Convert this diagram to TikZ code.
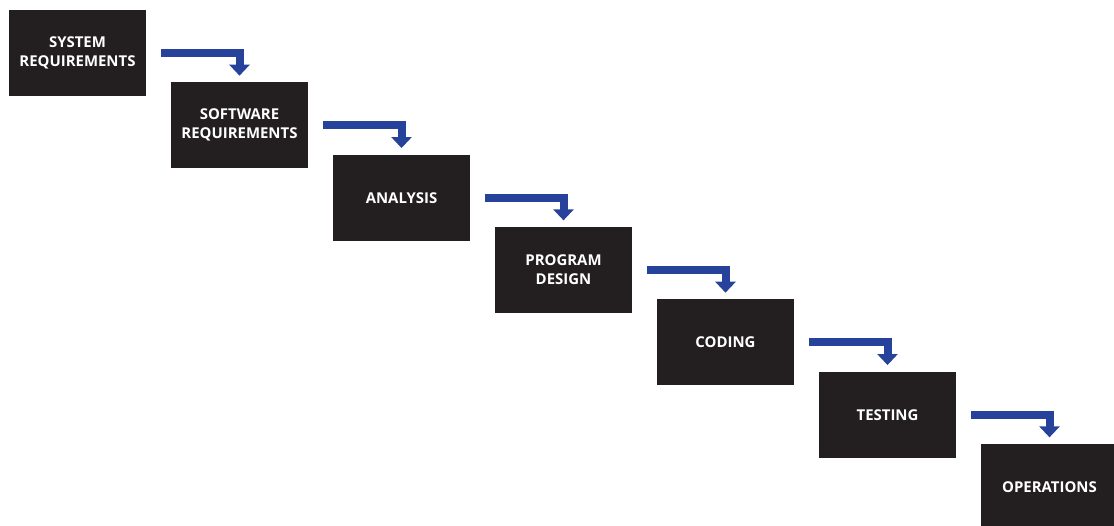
\documentclass[tikz,border=0pt]{standalone}
\usepackage{fontspec}
\setmainfont{Open Sans}
\usetikzlibrary{arrows.meta,calc}
\definecolor{boxfill}{RGB}{35,31,32}
\definecolor{arrblue}{RGB}{38,66,155}
\begin{document}
\begin{tikzpicture}[x=0.02cm,y=-0.02cm,
  box/.style={fill=boxfill, text=white, minimum width=2.74cm, minimum height=1.72cm,
    inner sep=0pt, align=center, font=\bfseries\fontsize{8.5}{10.8}\selectfont},
  flow/.style={draw=arrblue, line width=0.16cm, line join=miter,
    -{Triangle[width=0.4cm,length=0.22cm]}}]
\useasboundingbox (0,0) rectangle (1114,525);
\clip (0,0) rectangle (1114,525);
\node[box] (b1) at (77.5,53) {SYSTEM\\REQUIREMENTS};
\node[box] (b2) at (239.5,125.33) {SOFTWARE\\REQUIREMENTS};
\node[box] (b3) at (401.5,197.67) {ANALYSIS};
\node[box] (b4) at (563.5,270) {PROGRAM\\DESIGN};
\node[box] (b5) at (725.5,342.33) {CODING};
\node[box] (b6) at (887.5,414.67) {TESTING};
\node[box] (b7) at (1049.5,487) {OPERATIONS};
\foreach \a/\b in {b1/b2,b2/b3,b3/b4,b4/b5,b5/b6,b6/b7}
  \draw[flow] ($(\a.east)+(15,0)$) -| ($(\b.north)+(0,-6.3)$);
\end{tikzpicture}
\end{document}
